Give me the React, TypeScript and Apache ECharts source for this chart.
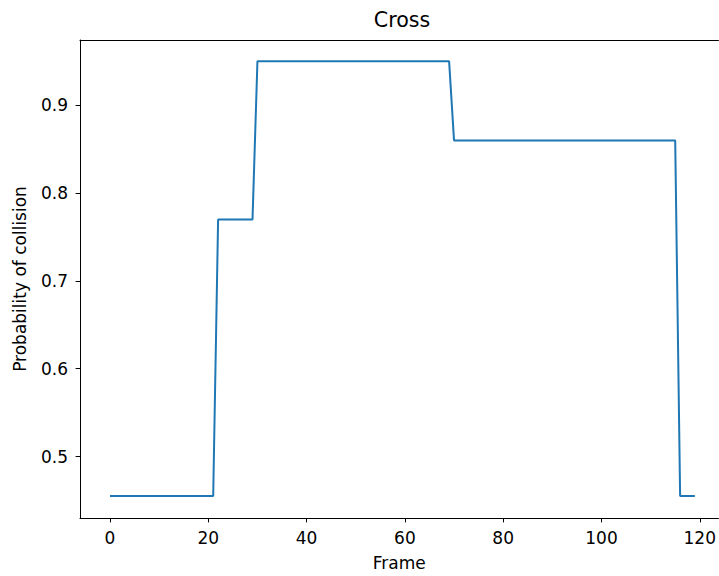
import React, { useEffect, useRef } from "react";
import * as echarts from "echarts";

const titleText = "Cross";
const xLabel = "Frame";
const yLabel = "Probability of collision";
const xTicks = [0, 20, 40, 60, 80, 100, 120];
const yTicks = [0.5, 0.6, 0.7, 0.8, 0.9];
// probability per frame (frames 0..119)
const probability = [
  0.455, 0.455, 0.455, 0.455, 0.455, 0.455, 0.455, 0.455, 0.455, 0.455,
  0.455, 0.455, 0.455, 0.455, 0.455, 0.455, 0.455, 0.455, 0.455, 0.455,
  0.455, 0.455, 0.77, 0.77, 0.77, 0.77, 0.77, 0.77, 0.77, 0.77,
  0.95, 0.95, 0.95, 0.95, 0.95, 0.95, 0.95, 0.95, 0.95, 0.95,
  0.95, 0.95, 0.95, 0.95, 0.95, 0.95, 0.95, 0.95, 0.95, 0.95,
  0.95, 0.95, 0.95, 0.95, 0.95, 0.95, 0.95, 0.95, 0.95, 0.95,
  0.95, 0.95, 0.95, 0.95, 0.95, 0.95, 0.95, 0.95, 0.95, 0.95,
  0.86, 0.86, 0.86, 0.86, 0.86, 0.86, 0.86, 0.86, 0.86, 0.86,
  0.86, 0.86, 0.86, 0.86, 0.86, 0.86, 0.86, 0.86, 0.86, 0.86,
  0.86, 0.86, 0.86, 0.86, 0.86, 0.86, 0.86, 0.86, 0.86, 0.86,
  0.86, 0.86, 0.86, 0.86, 0.86, 0.86, 0.86, 0.86, 0.86, 0.86,
  0.86, 0.86, 0.86, 0.86, 0.86, 0.86, 0.455, 0.455, 0.455, 0.455,
];
const frames = probability.map((_, i) => i);

const FONT = "DejaVu Sans";
const FS = 17;
const X_MIN = -6.1;
const X_MAX = 123.8;

export default function App() {
  const ref = useRef<HTMLDivElement>(null);
  useEffect(() => {
    if (!ref.current) return;
    const chart = echarts.init(ref.current, null, { renderer: "svg" });
    const data = frames.map((f, i) => [f, probability[i]]);
    chart.setOption({
      animation: false,
      backgroundColor: "#fff",
      grid: {
        left: 80,
        top: 40,
        right: 0,
        height: 480,
        show: false,
      },
      graphic: [
        {
          type: "text",
          x: 402,
          y: 20,
          style: {
            text: titleText,
            font: `20.6px "${FONT}"`,
            fill: "#000",
            align: "center",
            verticalAlign: "middle",
          },
        },
      ],
      xAxis: [
        {
          type: "value",
          min: X_MIN,
          max: X_MAX,
          name: xLabel,
          nameLocation: "middle",
          nameGap: 36,
          nameTextStyle: { fontFamily: FONT, fontSize: FS, color: "#000" },
          axisLine: { show: true, onZero: false, lineStyle: { color: "#000", width: 1 } },
          axisTick: {
            show: true,
            length: 4.4,
            customValues: xTicks,
            lineStyle: { color: "#000", width: 1 },
          },
          axisLabel: {
            customValues: xTicks,
            margin: 11,
            fontFamily: FONT,
            fontSize: FS,
            color: "#000",
          },
          splitLine: { show: false },
        },
        {
          type: "value",
          position: "top",
          min: X_MIN,
          max: X_MAX,
          axisLine: { show: true, onZero: false, lineStyle: { color: "#000", width: 1 } },
          axisTick: { show: false },
          axisLabel: { show: false },
          splitLine: { show: false },
        },
      ],
      yAxis: {
        type: "value",
        min: 0.43,
        max: 0.9743,
        name: yLabel,
        nameLocation: "middle",
        nameGap: 52,
        nameRotate: 90,
        nameTextStyle: { fontFamily: FONT, fontSize: FS, color: "#000" },
        axisLine: { show: true, onZero: false, lineStyle: { color: "#000", width: 1 } },
        axisTick: {
          show: true,
          length: 4.4,
          customValues: yTicks,
          lineStyle: { color: "#000", width: 1 },
        },
        axisLabel: {
          customValues: yTicks,
          margin: 12,
          fontFamily: FONT,
          fontSize: FS,
          color: "#000",
          formatter: (v: number) => v.toFixed(1),
        },
        splitLine: { show: false },
      },
      series: [
        {
          type: "line",
          xAxisIndex: 0,
          data,
          showSymbol: false,
          symbol: "none",
          lineStyle: { color: "#1f77b4", width: 2 },
          clip: true,
        },
      ],
    });
    return () => chart.dispose();
  }, []);
  return (
    <div
      ref={ref}
      style={{ position: "fixed", left: 0, top: 0, width: 719, height: 576, background: "#fff" }}
    />
  );
}
